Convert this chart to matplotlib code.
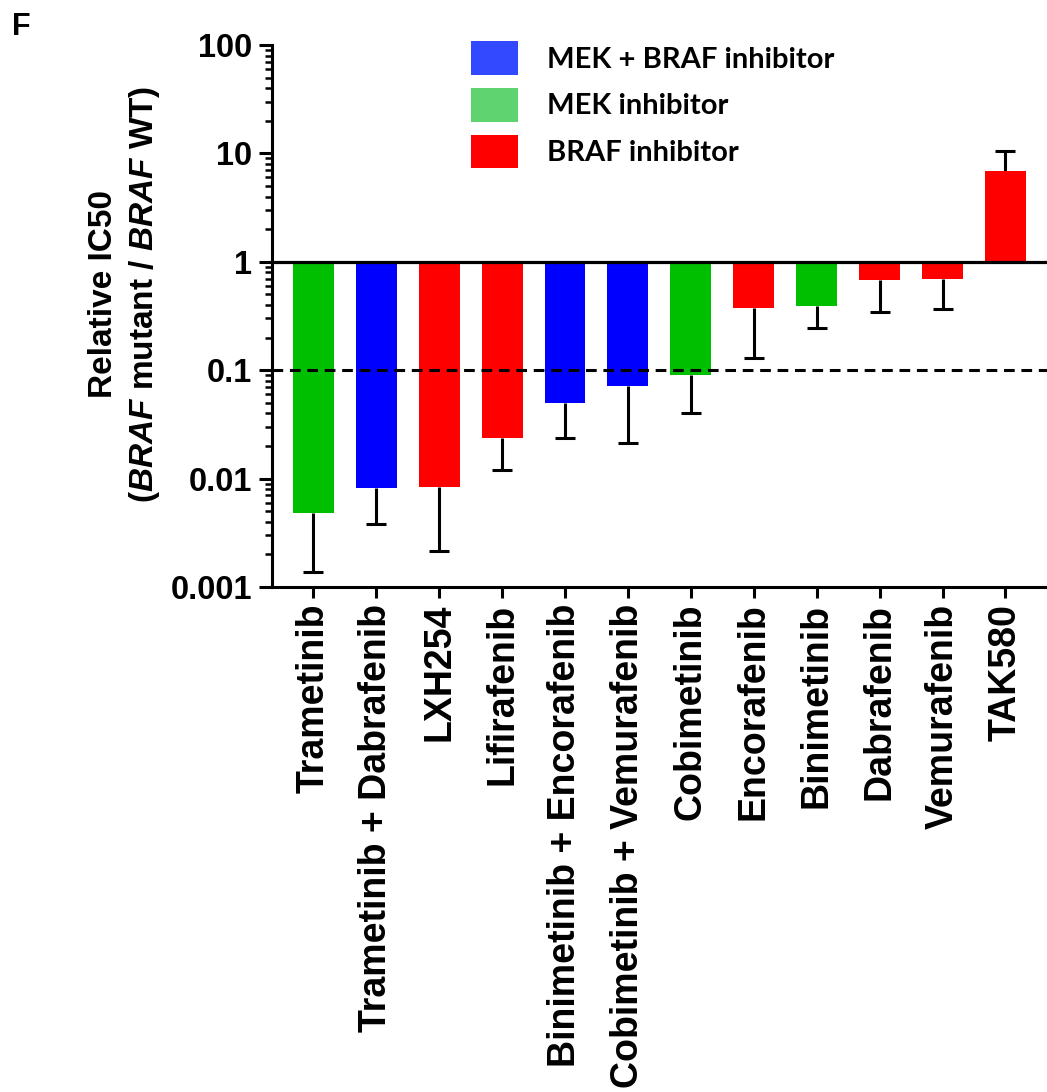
import numpy as np
import matplotlib
matplotlib.use('Agg')
import matplotlib.pyplot as plt
from matplotlib.patches import Patch
from matplotlib.ticker import FixedLocator, FuncFormatter, LogLocator

# 数据
drugs = ['Trametinib', 'Trametinib + Dabrafenib', 'LXH254', 'Lifirafenib',
         'Binimetinib + Encorafenib', 'Cobimetinib + Vemurafenib', 'Cobimetinib',
         'Encorafenib', 'Binimetinib', 'Dabrafenib', 'Vemurafenib', 'TAK580']
groups = ['MEK', 'MEK+BRAF', 'BRAF', 'BRAF', 'MEK+BRAF', 'MEK+BRAF', 'MEK',
          'BRAF', 'MEK', 'BRAF', 'BRAF', 'BRAF']
rel_ic50 = [0.0048, 0.0082, 0.0083, 0.0238, 0.050, 0.072, 0.091,
            0.372, 0.39, 0.68, 0.70, 6.9]
err_end = [0.00138, 0.00378, 0.00214, 0.0120, 0.0237, 0.0214, 0.0403,
           0.130, 0.247, 0.344, 0.37, 10.5]

bar_colors = {'MEK+BRAF': '#0000FF', 'MEK': '#00BF00', 'BRAF': '#FF0000'}
legend_colors = {'MEK+BRAF': '#3349FF', 'MEK': '#5FD36F', 'BRAF': '#FF0000'}
legend_labels = {'MEK+BRAF': 'MEK + BRAF inhibitor', 'MEK': 'MEK inhibitor',
                 'BRAF': 'BRAF inhibitor'}

ARIAL = ['Liberation Sans', 'DejaVu Sans']
plt.rcParams['font.family'] = ARIAL
plt.rcParams['font.weight'] = 'bold'
plt.rcParams['mathtext.fontset'] = 'custom'
plt.rcParams['mathtext.rm'] = 'Liberation Sans:bold'
plt.rcParams['mathtext.it'] = 'Liberation Sans:italic:bold'

fig = plt.figure(figsize=(10.47, 10.92), dpi=100)
ax = fig.add_axes([272 / 1047, 505 / 1092, 1 - 272 / 1047, (587 - 45) / 1092])

x = np.arange(len(drugs))
vals = np.array(rel_ic50)
ends = np.array(err_end)
colors = [bar_colors[g] for g in groups]

# 从 1 开始画柱子
ax.bar(x, vals - 1, bottom=1, width=0.65, color=colors, edgecolor='none', zorder=2)

# 单侧误差线（远离 1 的方向），只在外端画横帽
lower = np.where(vals < 1, vals - ends, 0)
upper = np.where(vals >= 1, ends - vals, 0)
ax.errorbar(x, vals, yerr=[lower, upper], fmt='none', ecolor='black',
            elinewidth=2.2, capsize=0, zorder=1)
ax.plot(x, ends, ls='none', marker='_', markersize=15, mew=2.2, color='black', zorder=1)

ax.set_yscale('log')
ax.set_ylim(0.001, 100)
ax.set_xlim(-0.657, 11.66)

ax.axhline(1, color='black', lw=2.3, zorder=3)
ax.axhline(0.1, color='black', lw=2.2, ls=(0, (3.5, 2.2)), zorder=3)

for s in ['top', 'right']:
    ax.spines[s].set_visible(False)
for s in ['left', 'bottom']:
    ax.spines[s].set_linewidth(2.2)

ax.yaxis.set_major_locator(FixedLocator([0.001, 0.01, 0.1, 1, 10, 100]))
ax.yaxis.set_minor_locator(LogLocator(base=10, subs=np.arange(2, 10)))
ax.yaxis.set_major_formatter(FuncFormatter(lambda v, p: '%g' % v))
ax.tick_params(axis='y', which='major', length=9.5, width=2.2, labelsize=23.5, pad=5)
ax.tick_params(axis='y', which='minor', length=5, width=1.8)

ax.set_xticks(x)
ax.set_xticklabels(drugs, rotation=90, fontsize=27, fontweight='bold')
ax.tick_params(axis='x', length=8, width=2.2, pad=4)
ax.tick_params(axis='both', labelfontfamily='Liberation Sans')

ax.set_ylabel('Relative IC50\n($\\mathit{BRAF}$ mutant / $\\mathit{BRAF}$ WT)',
              fontsize=24, fontweight='bold', linespacing=1.3, family=ARIAL)
ax.yaxis.set_label_coords(-0.142, 0.54)

handles = [Patch(facecolor=legend_colors[k], edgecolor='none') for k in ['MEK+BRAF', 'MEK', 'BRAF']]
labels = [legend_labels[k] for k in ['MEK+BRAF', 'MEK', 'BRAF']]
ax.legend(handles, labels, loc='upper left', bbox_to_anchor=(471 / 1047, 1 - 41 / 1092),
          bbox_transform=fig.transFigure, frameon=False, borderpad=0, borderaxespad=0,
          handlelength=1.6, handleheight=1.4, handletextpad=1.0, labelspacing=0.45,
          prop={'family': 'Lato', 'weight': 'bold', 'size': 21})

fig.text(12 / 1047, 1 - 12 / 1092, 'F', fontsize=22, fontweight='bold', va='top', ha='left',
         family=ARIAL)

fig.savefig('out.png', dpi=100)
